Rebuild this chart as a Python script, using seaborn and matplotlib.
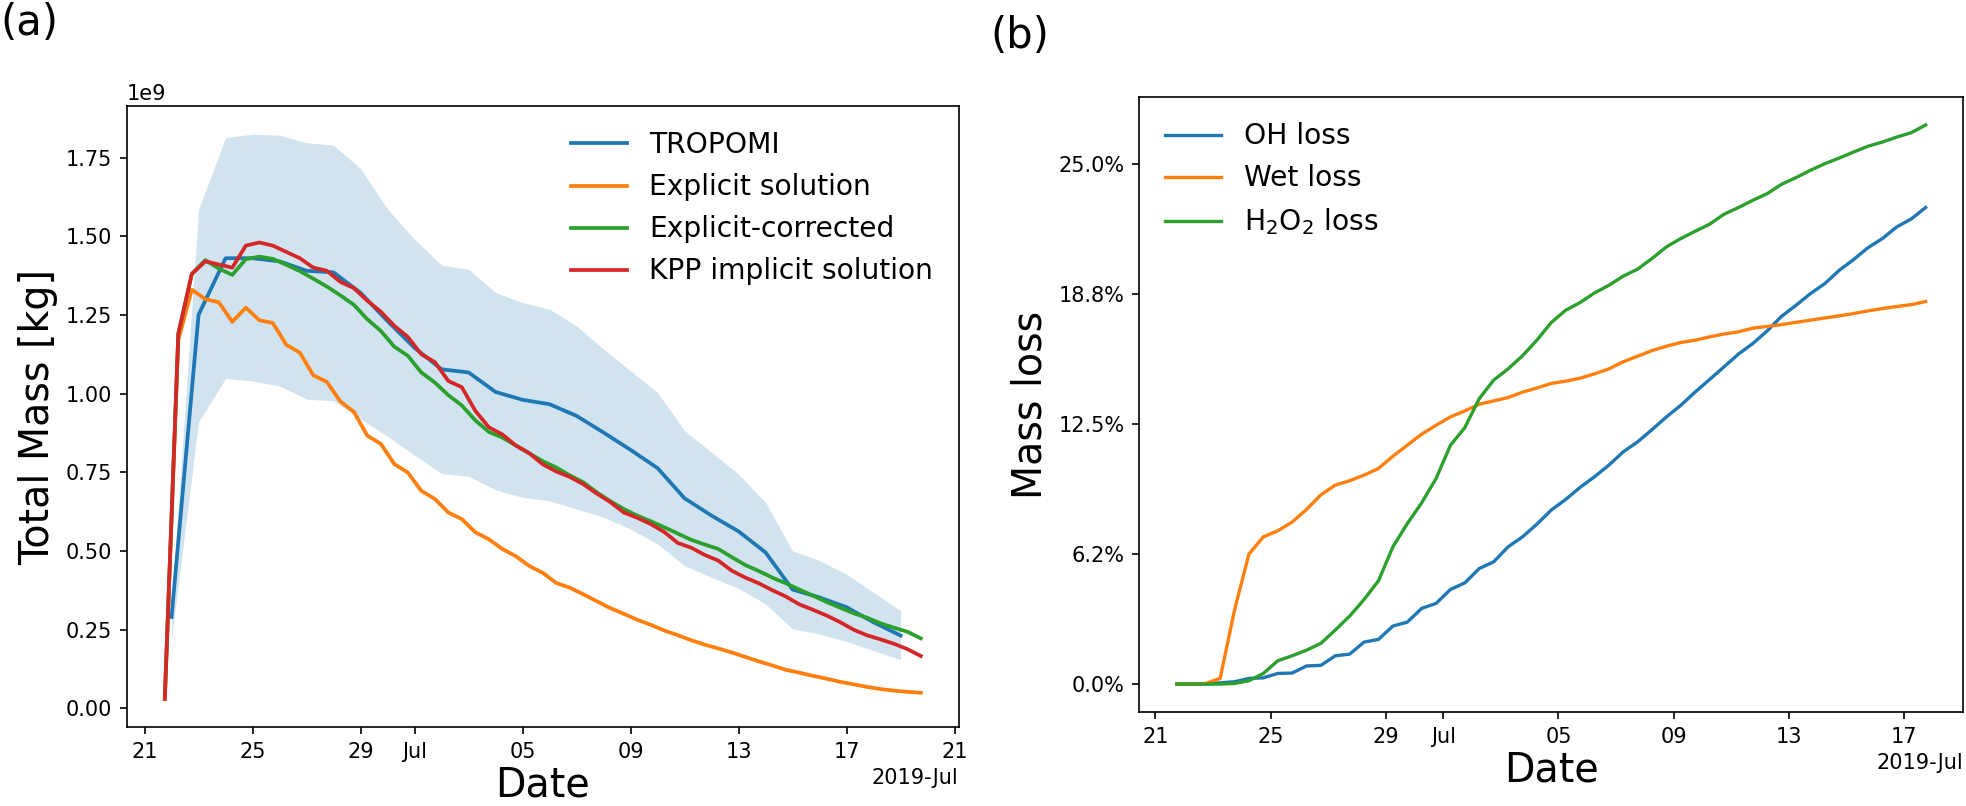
import numpy as np
import pandas as pd
import matplotlib
matplotlib.use("Agg")
import matplotlib.pyplot as plt
import matplotlib.dates as mdates
from matplotlib.ticker import PercentFormatter
import seaborn as sns

# (a) daily TROPOMI total mass and its spread, in units of 1e9 kg
tropomi_days = pd.date_range("2019-06-22", "2019-07-19", freq="D")
tropomi_mass = [0.29, 1.25, 1.43, 1.43, 1.42, 1.39, 1.385, 1.32, 1.23, 1.145,
                1.077, 1.067, 1.005, 0.98, 0.966, 0.929, 0.876, 0.821, 0.763, 0.667,
                0.612, 0.562, 0.495, 0.377, 0.352, 0.321, 0.273, 0.231]
tropomi_upper = [0.33, 1.585, 1.813, 1.824, 1.821, 1.797, 1.789, 1.715, 1.586, 1.49,
                 1.408, 1.395, 1.321, 1.289, 1.268, 1.215, 1.141, 1.072, 1.003, 0.882,
                 0.813, 0.744, 0.654, 0.50, 0.469, 0.426, 0.368, 0.31]
tropomi_lower = [0.22, 0.91, 1.048, 1.04, 1.024, 0.982, 0.977, 0.919, 0.864, 0.804,
                 0.746, 0.737, 0.694, 0.67, 0.659, 0.633, 0.607, 0.569, 0.522, 0.453,
                 0.416, 0.381, 0.331, 0.252, 0.236, 0.212, 0.183, 0.154]

# (a) model runs, every 12 hours, in units of 1e9 kg
model_times = pd.date_range("2019-06-21 18:00", periods=57, freq="12h")
explicit_mass = [0.03, 1.17, 1.33, 1.30, 1.29, 1.228, 1.273, 1.233, 1.224, 1.155,
                 1.13, 1.058, 1.037, 0.975, 0.942, 0.866, 0.84, 0.776, 0.749, 0.691,
                 0.665, 0.622, 0.601, 0.559, 0.537, 0.506, 0.483, 0.452, 0.43, 0.398,
                 0.383, 0.362, 0.34, 0.318, 0.30, 0.281, 0.265, 0.247, 0.232, 0.216,
                 0.202, 0.19, 0.177, 0.163, 0.149, 0.136, 0.122, 0.113, 0.103, 0.094,
                 0.084, 0.076, 0.068, 0.061, 0.056, 0.052, 0.049]
corrected_mass = [0.03, 1.19, 1.38, 1.424, 1.397, 1.377, 1.427, 1.435, 1.428, 1.409,
                  1.389, 1.365, 1.34, 1.312, 1.282, 1.236, 1.199, 1.149, 1.12, 1.067,
                  1.035, 0.995, 0.962, 0.915, 0.878, 0.86, 0.835, 0.81, 0.785, 0.765,
                  0.74, 0.718, 0.686, 0.658, 0.633, 0.612, 0.594, 0.575, 0.555, 0.535,
                  0.52, 0.506, 0.48, 0.455, 0.436, 0.415, 0.397, 0.377, 0.358, 0.338,
                  0.32, 0.302, 0.288, 0.27, 0.256, 0.243, 0.222]
kpp_mass = [0.03, 1.19, 1.38, 1.42, 1.41, 1.40, 1.47, 1.48, 1.47, 1.45,
            1.43, 1.40, 1.39, 1.355, 1.335, 1.295, 1.26, 1.215, 1.18, 1.125,
            1.10, 1.04, 1.02, 0.945, 0.893, 0.87, 0.835, 0.81, 0.775, 0.752,
            0.735, 0.712, 0.682, 0.655, 0.622, 0.605, 0.585, 0.56, 0.525, 0.51,
            0.487, 0.469, 0.437, 0.415, 0.397, 0.375, 0.355, 0.33, 0.313, 0.295,
            0.274, 0.25, 0.232, 0.219, 0.205, 0.188, 0.166]

# (b) cumulative mass loss in percent, every 12 hours
loss_times = pd.date_range("2019-06-21 18:00", periods=53, freq="12h")
oh_loss = [0, 0, 0, 0.06, 0.11, 0.27, 0.30, 0.51, 0.53, 0.87,
           0.90, 1.36, 1.44, 2.02, 2.15, 2.79, 2.98, 3.64, 3.88, 4.55,
           4.87, 5.56, 5.88, 6.6, 7.08, 7.69, 8.37, 8.88, 9.46, 9.97,
           10.53, 11.17, 11.65, 12.24, 12.85, 13.41, 14.05, 14.65, 15.26, 15.87,
           16.38, 16.99, 17.69, 18.22, 18.78, 19.26, 19.9, 20.42, 20.99, 21.43,
           21.99, 22.37, 22.92]
wet_loss = [0, 0, 0.03, 0.27, 3.56, 6.25, 7.08, 7.37, 7.79, 8.4,
            9.1, 9.57, 9.78, 10.05, 10.37, 10.96, 11.49, 12.02, 12.45, 12.85,
            13.14, 13.46, 13.62, 13.78, 14.04, 14.24, 14.46, 14.57, 14.71, 14.92,
            15.16, 15.5, 15.77, 16.04, 16.25, 16.43, 16.54, 16.7, 16.84, 16.94,
            17.12, 17.2, 17.29, 17.4, 17.5, 17.61, 17.71, 17.82, 17.95, 18.06,
            18.16, 18.25, 18.4]
h2o2_loss = [0, 0, 0, 0, 0.03, 0.16, 0.51, 1.12, 1.36, 1.63,
             1.96, 2.6, 3.27, 4.07, 4.97, 6.6, 7.72, 8.72, 9.89, 11.49,
             12.34, 13.73, 14.62, 15.16, 15.79, 16.54, 17.39, 17.98, 18.35, 18.81,
             19.18, 19.62, 19.96, 20.47, 21.03, 21.43, 21.78, 22.12, 22.6, 22.92,
             23.27, 23.59, 24.04, 24.36, 24.71, 25.03, 25.3, 25.59, 25.87, 26.07,
             26.31, 26.52, 26.89]

fig = plt.figure(figsize=(1966 / 150, 806 / 150), dpi=150)
ax1 = fig.add_axes([0.0646, 0.098, 0.423, 0.7705])
ax2 = fig.add_axes([0.5796, 0.1166, 0.4189, 0.763])

# panel (a)
ax1.fill_between(tropomi_days, np.array(tropomi_lower) * 1e9, np.array(tropomi_upper) * 1e9,
                 color="C0", alpha=0.2, lw=0)
sns.lineplot(x=tropomi_days, y=np.array(tropomi_mass) * 1e9, ax=ax1, color="C0", lw=1.8, label="TROPOMI")
sns.lineplot(x=model_times, y=np.array(explicit_mass) * 1e9, ax=ax1, color="C1", lw=1.8, label="Explicit solution")
sns.lineplot(x=model_times, y=np.array(corrected_mass) * 1e9, ax=ax1, color="C2", lw=1.8, label="Explicit-corrected")
sns.lineplot(x=model_times, y=np.array(kpp_mass) * 1e9, ax=ax1, color="C3", lw=1.8, label="KPP implicit solution")
ax1.set_xlabel("Date", fontsize=19, labelpad=2)
ax1.set_ylabel("Total Mass [kg]", fontsize=19)
ax1.legend(frameon=False, fontsize=13.5, loc="upper right")

# panel (b)
sns.lineplot(x=loss_times, y=np.array(oh_loss) / 100, ax=ax2, color="C0", lw=1.6, label="OH loss")
sns.lineplot(x=loss_times, y=np.array(wet_loss) / 100, ax=ax2, color="C1", lw=1.6, label="Wet loss")
sns.lineplot(x=loss_times, y=np.array(h2o2_loss) / 100, ax=ax2, color="C2", lw=1.6, label="H$_2$O$_2$ loss")
ax2.set_yticks([0, 0.0625, 0.125, 0.1875, 0.25])
ax2.yaxis.set_major_formatter(PercentFormatter(1.0, decimals=1))
ax2.set_xlabel("Date", fontsize=19, labelpad=2)
ax2.set_ylabel("Mass loss", fontsize=19)
ax2.legend(frameon=False, fontsize=13.5, loc="upper left")

for ax in (ax1, ax2):
    loc = mdates.DayLocator(bymonthday=range(1, 32, 4))
    ax.xaxis.set_major_locator(loc)
    ax.xaxis.set_major_formatter(mdates.ConciseDateFormatter(loc))

fig.text(0.0, 0.998, "(a)", fontsize=20, va="top", ha="left")
fig.text(0.5036, 0.981, "(b)", fontsize=20, va="top", ha="left")

fig.savefig("out.png", dpi=150)
